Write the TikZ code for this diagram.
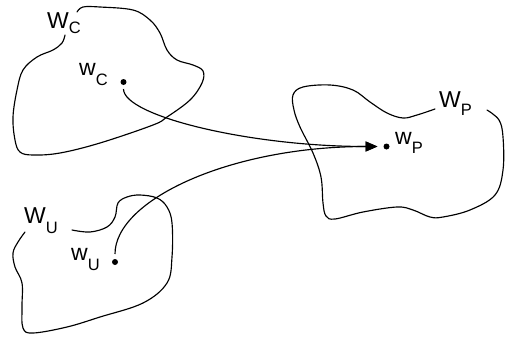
\documentclass[tikz,border=0pt]{standalone}
\usepackage{fontspec}
\setmainfont{Liberation Sans}
\usetikzlibrary{arrows.meta}
\newcommand{\lbl}[3]{#1\raisebox{-#3pt}{\fontsize{16.5}{16.5}\selectfont #2}}
\tikzset{
  blob/.style={line width=1.15pt, line cap=round},
  conn/.style={line width=1.15pt, -{Triangle[length=12pt,width=10pt]}},
  dotnode/.style={circle, fill=black, inner sep=0pt, minimum size=6pt},
  lab/.style={anchor=base west, inner sep=0pt, font=\fontsize{23}{23}\selectfont}
}
\begin{document}
\begin{tikzpicture}[x=1pt,y=-1pt]
\useasboundingbox (0,0) rectangle (506,338);
% region C
\draw[blob] plot[smooth, tension=0.6] coordinates {(77,12) (83,7) (100,7) (133,10) (150,20) (160,33) (167,50) (177,60) (193,65) (203,71) (202,83) (190,100) (167,117) (153,125) (100,143) (60,153) (33,155) (20,152) (15,140) (13,117) (17,90) (23,70) (37,57) (53,50) (62,43) (65,35)};
% region P
\draw[blob] plot[smooth, tension=0.6] coordinates {(435,109) (417,115) (403,118) (387,113) (370,102) (353,90) (330,85) (303,87) (293,95) (294,110) (300,127) (313,153) (321,177) (323,203) (326,216) (335,219) (363,212) (397,207) (413,210) (430,217) (443,217) (470,210) (495,195) (503,170) (503,137) (499,120) (487,110)};
% region U
\draw[blob] plot[smooth, tension=0.6] coordinates {(72,230) (90,232) (107,227) (115,217) (118,203) (127,197) (140,195) (157,198) (167,207) (172,223) (172,257) (167,283) (143,303) (100,317) (67,327) (33,333) (23,328) (22,307) (22,283) (15,267) (13,253) (18,242) (25,232)};
% labels
\node[lab] (WC) at (47,28) {\lbl{W}{C}{5}};
\node[lab] (wCl) at (79,75) {\lbl{w}{C}{10}};
\node[lab] (WP) at (439,107) {\lbl{W}{P}{8}};
\node[lab] (wPl) at (395,144) {\lbl{w}{P}{9}};
\node[lab] (WU) at (24,223) {\lbl{W}{U}{10}};
\node[lab] (wUl) at (71,260) {\lbl{w}{U}{10}};
% points
\node[dotnode] (wc) at (123.5,82) {};
\node[dotnode] (wp) at (386.5,146.5) {};
\node[dotnode] (wu) at (115,262) {};
% connectors
\draw[conn, shorten <=7pt, shorten >=9pt] (wc.center) .. controls (123.5,116) and (250,146.5) .. (wp.center);
\draw[conn, shorten <=8pt, shorten >=9pt] (wu.center) .. controls (115,200) and (230,146.5) .. (wp.center);
\end{tikzpicture}
\end{document}
